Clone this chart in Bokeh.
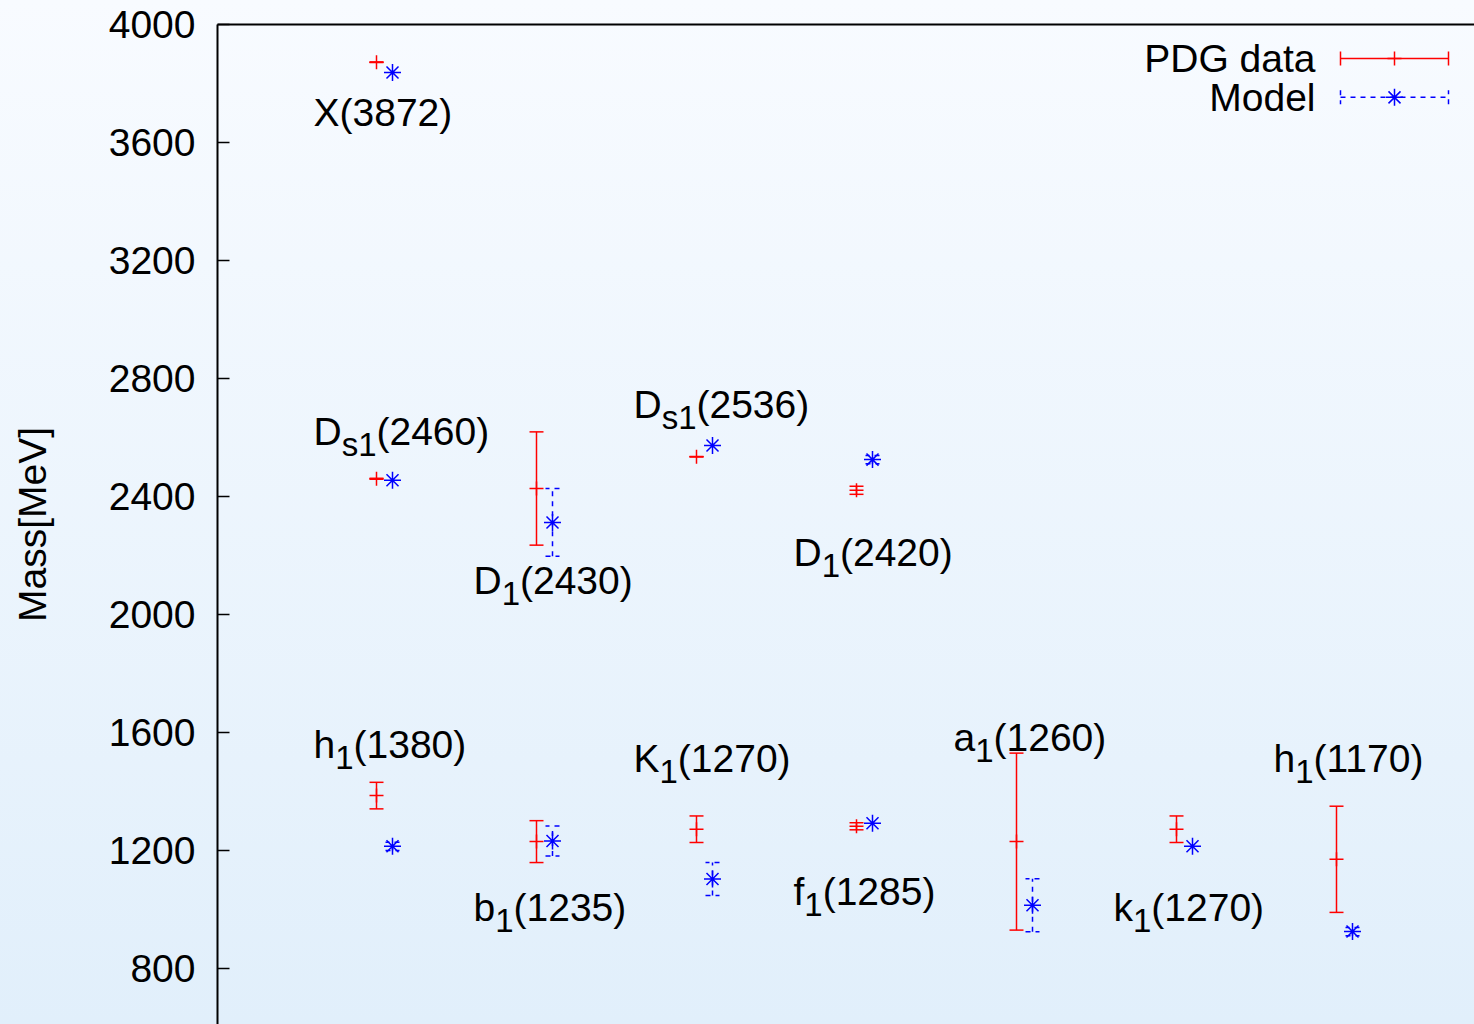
from bokeh.plotting import figure
from bokeh.models import Range1d, FixedTicker, LinearAxis, ColumnDataSource, Whisker, TeeHead
from bokeh.core.properties import value
from bokeh.embed import file_html
from bokeh.resources import INLINE

# ---------------- data ----------------
# heavy (charm) states, upper row
heavy_labels = ["X(3872)", "D_{s1}(2460)", "D_{1}(2430)", "D_{s1}(2536)", "D_{1}(2420)"]
heavy_pos = [1, 1, 2, 3, 4]
heavy_pdg = [3872, 2460, 2427, 2535, 2421]
heavy_pdg_err = [0.6, 1.7, 192, 0.5, 13.7]
heavy_model = [3837, 2455, 2312, 2573, 2525]
heavy_model_err = [0, 0, 115, 0, 14]
heavy_label_y = [3700, 2620, 2115, 2712, 2210]

# light states, lower row
light_labels = ["h_{1}(1380)", "b_{1}(1235)", "K_{1}(1270)", "f_{1}(1285)",
                "a_{1}(1260)", "k_{1}(1270)", "h_{1}(1170)"]
light_pos = [1, 2, 3, 4, 5, 6, 7]
light_pdg = [1386, 1230, 1272, 1282, 1230, 1272, 1170]
light_pdg_err = [45, 71, 45, 12, 300, 45, 180]
light_model = [1214, 1232, 1103, 1292, 1014, 1214, 925]
light_model_err = [14, 51, 56, 0, 90, 0, 14]
light_label_y = [1559, 1007, 1512, 1061, 1583, 1007, 1512]

y_ticks = [800, 1200, 1600, 2000, 2400, 2800, 3200, 3600, 4000]

# ---------------- styling ----------------
FONT = "Liberation Sans"
FS = 39
SUB_FS = 33
RED = "#ff0000"
BLUE = "#0000ff"
DASH = "5 5"
OFF = 0.05          # horizontal offset of PDG / model points
LABEL_DX = -0.44375 # label left edge relative to the column

X0, X1 = -0.04375, 7.8125
Y0, Y1 = 610, 4000
W_PX, H_PX = 1474, 1024
LEFT, TOP = 217, 24
px_per_y = (H_PX - TOP) / (Y1 - Y0)

p = figure(width=W_PX, height=H_PX, output_backend="svg", toolbar_location=None,
           x_range=Range1d(X0, X1), y_range=Range1d(Y0, Y1),
           x_axis_location=None, min_border_left=LEFT, min_border_top=TOP,
           min_border_right=0, min_border_bottom=0,
           background_fill_color=None, border_fill_color=None,
           outline_line_color=None,
           styles={"background": "linear-gradient(to bottom, #f8fbff 0%, #e1effb 100%)"})
p.xgrid.visible = False
p.ygrid.visible = False

ax = p.yaxis[0]
ax.ticker = FixedTicker(ticks=y_ticks)
ax.minor_tick_line_color = None
ax.major_tick_in = 12
ax.major_tick_out = 0
ax.major_tick_line_width = 1.5
ax.axis_line_width = 2
ax.major_label_text_font = FONT
ax.major_label_text_font_size = f"{FS}px"
ax.major_label_text_color = "black"
ax.major_label_standoff = 22
ax.axis_label = "Mass[MeV]"
ax.axis_label_text_font = FONT
ax.axis_label_text_font_size = f"{FS}px"
ax.axis_label_text_font_style = "normal"
ax.axis_label_text_color = "black"
ax.axis_label_standoff = 52

top = LinearAxis(ticker=FixedTicker(ticks=[]), major_label_text_font_size="0px",
                 major_tick_line_color=None, minor_tick_line_color=None,
                 axis_line_width=2, major_label_standoff=0)
p.add_layout(top, "above")


def err_bars(xs, ys, errs, color, dash):
    keep = [i for i, e in enumerate(errs) if e > 0]
    src = ColumnDataSource(dict(x=[xs[i] for i in keep],
                                lo=[ys[i] - errs[i] for i in keep],
                                hi=[ys[i] + errs[i] for i in keep]))
    head = dict(size=14, line_color=color, line_width=1.5, line_dash=dash)
    w = Whisker(source=src, base="x", lower="lo", upper="hi", dimension="height",
                line_color=color, line_width=1.5, line_dash=dash,
                upper_head=TeeHead(**head), lower_head=TeeHead(**head))
    p.add_layout(w)


for pos, pdg, perr, mod, merr in [
        (heavy_pos, heavy_pdg, heavy_pdg_err, heavy_model, heavy_model_err),
        (light_pos, light_pdg, light_pdg_err, light_model, light_model_err)]:
    xr = [x - OFF for x in pos]
    xb = [x + OFF for x in pos]
    err_bars(xr, pdg, perr, RED, "solid")
    err_bars(xb, mod, merr, BLUE, DASH)
    p.scatter(xr, pdg, marker="cross", size=14, line_color=RED, line_width=1.5)
    p.scatter(xb, mod, marker="asterisk", size=17, line_color=BLUE, line_width=1.5)

# ---------------- labels with subscripts ----------------
ADV = {"D": 0.722, "X": 0.667, "h": 0.556, "b": 0.556, "K": 0.667, "f": 0.278,
       "a": 0.556, "k": 0.5, "s": 0.5, "(": 0.333, ")": 0.333}
for d in "0123456789":
    ADV[d] = 0.556


def parse(lbl):
    if "_{" in lbl:
        a, r = lbl.split("_{", 1)
        s, c = r.split("}", 1)
        return a, s, c
    return lbl, "", ""


def width(t, fs):
    return sum(ADV.get(ch, 0.556) for ch in t) * fs


parts = {"main": dict(x=[], y=[], t=[], xo=[]),
         "sub": dict(x=[], y=[], t=[], xo=[]),
         "rest": dict(x=[], y=[], t=[], xo=[])}
sub_dy = 13 / px_per_y
for labels, pos, ly in [(heavy_labels, heavy_pos, heavy_label_y),
                        (light_labels, light_pos, light_label_y)]:
    for lbl, x, y in zip(labels, pos, ly):
        a, s, c = parse(lbl)
        lx = x + LABEL_DX
        parts["main"]["x"].append(lx); parts["main"]["y"].append(y)
        parts["main"]["t"].append(a); parts["main"]["xo"].append(0)
        if s:
            wa = width(a, FS)
            parts["sub"]["x"].append(lx); parts["sub"]["y"].append(y - sub_dy)
            parts["sub"]["t"].append(s); parts["sub"]["xo"].append(wa)
            parts["rest"]["x"].append(lx); parts["rest"]["y"].append(y)
            parts["rest"]["t"].append(c); parts["rest"]["xo"].append(wa + width(s, SUB_FS))

for key, fs in [("main", FS), ("sub", SUB_FS), ("rest", FS)]:
    src = ColumnDataSource(parts[key])
    p.text(x="x", y="y", text="t", x_offset="xo", source=src,
           text_font=value(FONT), text_font_size=f"{fs}px",
           text_baseline="middle", text_align="left", text_color="black")

# ---------------- key (label left of sample, as in the original) ----------------
key_names = ["PDG data", "Model"]
key_y = [3885, 3753]
KEY_TEXT_X = 6.81875
KEY_X0, KEY_X1 = 6.975, 7.65
key_mid = (KEY_X0 + KEY_X1) / 2

p.text(x=[KEY_TEXT_X] * 2, y=key_y, text=key_names, text_font=value(FONT),
       text_font_size=f"{FS}px", text_baseline="middle", text_align="right",
       text_color="black")
for y, color, dash, marker, size in [(key_y[0], RED, "solid", "cross", 14),
                                     (key_y[1], BLUE, DASH, "asterisk", 17)]:
    src = ColumnDataSource(dict(y=[y], lo=[KEY_X0], hi=[KEY_X1]))
    head = dict(size=14, line_color=color, line_width=1.5, line_dash=dash)
    p.add_layout(Whisker(source=src, base="y", lower="lo", upper="hi", dimension="width",
                         line_color=color, line_width=1.5, line_dash=dash,
                         upper_head=TeeHead(**head), lower_head=TeeHead(**head)))
    p.scatter([key_mid], [y], marker=marker, size=size, line_color=color, line_width=1.5)

open("out.html", "w").write(file_html(p, INLINE))
